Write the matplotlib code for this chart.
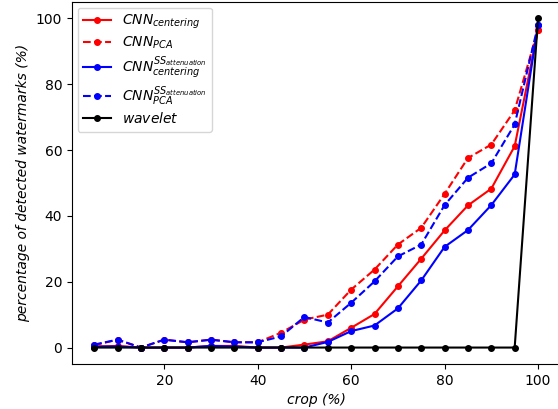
import matplotlib
matplotlib.use("Agg")
import matplotlib.pyplot as plt

crop = [5, 10, 15, 20, 25, 30, 35, 40, 45, 50, 55, 60, 65, 70, 75, 80, 85, 90, 95, 100]

cnn_centering = [0.3, 0.5, 0, 0, 0, 0.5, 0.5, 0, 0, 0.9, 1.9, 6.0, 10.2, 18.6, 27.0, 35.6, 43.2, 48.3, 61.2, 96.5]
cnn_pca = [0.7, 2.4, 0, 2.4, 1.6, 2.4, 1.6, 1.6, 4.5, 8.5, 10.0, 17.6, 23.7, 31.3, 36.4, 46.7, 57.6, 61.7, 72.1, 96.6]
cnn_ss_centering = [0.3, 0.3, 0, 0, 0, 0.5, 0.3, 0, 0, 0, 1.7, 5.0, 6.7, 11.9, 20.4, 30.6, 35.7, 43.3, 52.6, 98.0]
cnn_ss_pca = [0.9, 2.4, 0, 2.4, 1.6, 2.4, 1.6, 1.6, 3.4, 9.3, 7.6, 13.6, 20.1, 27.7, 31.3, 43.3, 51.6, 56.0, 67.8, 98.0]
wavelet = [0, 0, 0, 0, 0, 0, 0, 0, 0, 0, 0, 0, 0, 0, 0, 0, 0, 0, 0, 100]


def main():
    fig = plt.figure(figsize=(5.58, 4.09), dpi=100)
    ax = fig.add_axes([0.129, 0.11, 0.875, 0.885])

    ax.plot(crop, cnn_centering, 'r-', marker='o', markersize=4, label=r'$CNN_{centering}$')
    ax.plot(crop, cnn_pca, 'r--', marker='o', markersize=4, label=r'$CNN_{PCA}$')
    ax.plot(crop, cnn_ss_centering, 'b-', marker='o', markersize=4,
            label=r'$CNN^{SS_{attenuation}}_{centering}$')
    ax.plot(crop, cnn_ss_pca, 'b--', marker='o', markersize=4,
            label=r'$CNN^{SS_{attenuation}}_{PCA}$')
    ax.plot(crop, wavelet, 'k-', marker='o', markersize=4, label=r'$wavelet$')

    ax.set_xticks([20, 40, 60, 80, 100])
    ax.set_yticks([0, 20, 40, 60, 80, 100])
    ax.set_xlabel('crop (%)', style='italic')
    ax.set_ylabel('percentage of detected watermarks (%)', style='italic')
    ax.legend(loc='upper left', fontsize=10, borderaxespad=0.4, labelspacing=0.25)

    fig.savefig('out.png', dpi=100)


if __name__ == "__main__":
    main()
